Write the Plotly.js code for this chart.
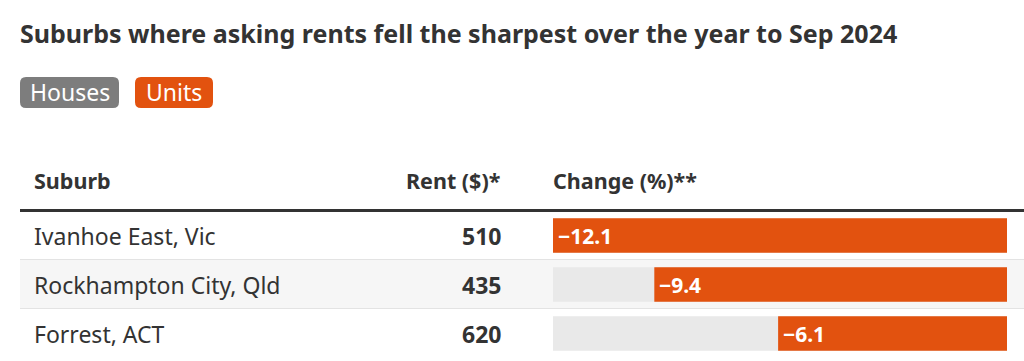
<!DOCTYPE html>
<html>
<head>
<meta charset="utf-8">
<script src="https://cdn.plot.ly/plotly-3.0.1.min.js"></script>
<style>html,body{margin:0;padding:0;background:#fff;}#chart{width:1024px;height:361px;}</style>
</head>
<body>
<div id="chart"></div>
<script>
// ---- data ----
const title = "Suburbs where asking rents fell the sharpest over the year to Sep 2024";
const toggleLabels = ["Houses", "Units"];
const headers = ["Suburb", "Rent ($)*", "Change (%)**"];
const suburbs = ["Ivanhoe East, Vic", "Rockhampton City, Qld", "Forrest, ACT"];
const rents = [510, 435, 620];
const changes = [-12.1, -9.4, -6.1];

// ---- layout helpers ----
const W = 1024, H = 361;
const px = x => x / W;
const py = y => 1 - y / H;
const FONT = "Noto Sans, Open Sans, sans-serif";
const DARK = "#333333";
const ORANGE = "#e2520f";
const GREY_BTN = "#7d7d7d";
const TRACK = "#e9e9e9";

function roundRect(x0, y0, x1, y1, r) {
  const X = v => px(v), Y = v => py(v);
  return `M ${X(x0 + r)} ${Y(y0)} L ${X(x1 - r)} ${Y(y0)} Q ${X(x1)} ${Y(y0)} ${X(x1)} ${Y(y0 + r)} ` +
         `L ${X(x1)} ${Y(y1 - r)} Q ${X(x1)} ${Y(y1)} ${X(x1 - r)} ${Y(y1)} ` +
         `L ${X(x0 + r)} ${Y(y1)} Q ${X(x0)} ${Y(y1)} ${X(x0)} ${Y(y1 - r)} ` +
         `L ${X(x0)} ${Y(y0 + r)} Q ${X(x0)} ${Y(y0)} ${X(x0 + r)} ${Y(y0)} Z`;
}

const rowTop = 211, rowH = 49;
const n = suburbs.length;
const idx = suburbs.map((_, i) => i);
const minChange = Math.min(...changes);

const traces = [
  {
    type: "bar", orientation: "h",
    x: idx.map(() => minChange), y: idx,
    marker: {color: TRACK}, width: 0.7,
    hoverinfo: "skip", showlegend: false
  },
  {
    type: "bar", orientation: "h",
    x: changes, y: idx,
    marker: {color: ORANGE}, width: 0.7,
    hoverinfo: "skip", showlegend: false
  }
];

const shapes = [];
const annotations = [];

// title
annotations.push({xref: "paper", yref: "paper", x: px(18), y: py(33), xanchor: "left", yanchor: "middle",
  text: "<b>" + title + "</b>", showarrow: false, font: {family: FONT, size: 25, color: DARK}});

// toggle buttons
const btns = [{x0: 20, x1: 119, col: GREY_BTN}, {x0: 135, x1: 213, col: ORANGE}];
btns.forEach((b, i) => {
  shapes.push({type: "path", xref: "paper", yref: "paper", path: roundRect(b.x0, 77, b.x1, 108, 6),
    fillcolor: b.col, line: {width: 0}, layer: "below"});
  annotations.push({xref: "paper", yref: "paper", x: px((b.x0 + b.x1) / 2), y: py(92), xanchor: "center", yanchor: "middle",
    text: toggleLabels[i], showarrow: false, font: {family: FONT, size: 23, color: "#ffffff"}});
});

// headers
const hy = py(180);
annotations.push({xref: "paper", yref: "paper", x: px(32), y: hy, xanchor: "left", yanchor: "middle",
  text: "<b>" + headers[0] + "</b>", showarrow: false, font: {family: FONT, size: 21.5, color: DARK}});
annotations.push({xref: "paper", yref: "paper", x: px(503), y: hy, xanchor: "right", yanchor: "middle",
  text: "<b>" + headers[1] + "</b>", showarrow: false, font: {family: FONT, size: 21.5, color: DARK}});
annotations.push({xref: "paper", yref: "paper", x: px(551), y: hy, xanchor: "left", yanchor: "middle",
  text: "<b>" + headers[2] + "</b>", showarrow: false, font: {family: FONT, size: 21.5, color: DARK}});

// row backgrounds and separators
idx.forEach(i => {
  const top = rowTop + i * rowH;
  if (i % 2 === 1) {
    shapes.push({type: "rect", xref: "paper", yref: "paper", x0: px(20), x1: 1, y0: py(top), y1: py(top + rowH),
      fillcolor: "#f6f6f6", line: {width: 0}, layer: "below"});
  }
  if (i > 0) {
    shapes.push({type: "line", xref: "paper", yref: "paper", x0: px(20), x1: 1, y0: py(top - 0.5), y1: py(top - 0.5),
      line: {color: "#e3e3e3", width: 1}, layer: "below"});
  }
  const cy = py(top + rowH / 2);
  annotations.push({xref: "paper", yref: "paper", x: px(32), y: cy, xanchor: "left", yanchor: "middle",
    text: suburbs[i], showarrow: false, font: {family: FONT, size: 23, color: DARK}});
  annotations.push({xref: "paper", yref: "paper", x: px(503), y: cy, xanchor: "right", yanchor: "middle",
    text: "<b>" + rents[i] + "</b>", showarrow: false, font: {family: FONT, size: 23, color: DARK}});
  annotations.push({xref: "x", yref: "y", x: changes[i], y: i, xanchor: "left", yanchor: "middle", xshift: 3,
    text: "<b>" + (changes[i] < 0 ? "\u2212" : "") + Math.abs(changes[i]).toFixed(1) + "</b>",
    showarrow: false, font: {family: FONT, size: 21, color: "#ffffff"}});
});

// heavy header line
shapes.push({type: "line", xref: "paper", yref: "paper", x0: px(20), x1: 1, y0: py(210.5), y1: py(210.5),
  line: {color: "#333333", width: 3}});

const layout = {
  width: W, height: H,
  margin: {l: 0, r: 0, t: 0, b: 0},
  paper_bgcolor: "#ffffff", plot_bgcolor: "rgba(0,0,0,0)",
  barmode: "overlay",
  showlegend: false,
  xaxis: {domain: [px(553), px(1007)], range: [minChange, 0], visible: false, fixedrange: true},
  yaxis: {domain: [py(rowTop + n * rowH), py(rowTop)], range: [n - 0.5, -0.5], visible: false, fixedrange: true},
  shapes: shapes,
  annotations: annotations
};

Plotly.newPlot("chart", traces, layout, {displayModeBar: false, staticPlot: true});
</script>
</body>
</html>
